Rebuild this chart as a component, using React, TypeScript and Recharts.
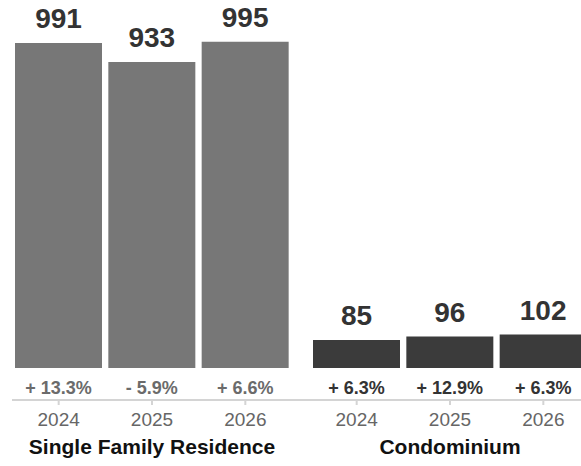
import { FC } from 'react';
import { Bar, BarChart, LabelList, XAxis, YAxis } from 'recharts';

const years = ['2024', '2025', '2026'];
const sfrValues = [991, 933, 995];
const sfrChange = ['+ 13.3%', '- 5.9%', '+ 6.6%'];
const condoValues = [85, 96, 102];
const condoChange = ['+ 6.3%', '+ 12.9%', '+ 6.3%'];

const FONT = '"Liberation Sans", Arial, Helvetica, sans-serif';

interface GroupProps {
  title: string;
  values: number[];
  changes: string[];
  barColor: string;
  changeColor: string;
  left: number;
  width: number;
  marginLeft: number;
  padLeft: number;
  padRight: number;
}

const GroupChart: FC<GroupProps> = ({
  title, values, changes, barColor, changeColor, left, width, marginLeft, padLeft, padRight,
}) => {
  const data = years.map((year, i) => ({ year, value: values[i], change: changes[i] }));

  return (
    <div style={{ position: 'absolute', left, top: 0 }}>
      <BarChart
        width={width}
        height={466}
        data={data}
        margin={{ top: 40, right: 0, left: marginLeft, bottom: 0 }}
      >
        <YAxis hide domain={[0, 1000]} />
        {/* empty axis: room for the change labels under the bars */}
        <XAxis
          xAxisId="gap"
          dataKey="year"
          height={32}
          tick={false}
          axisLine={false}
          tickLine={false}
          padding={{ left: padLeft, right: padRight }}
        />
        <XAxis
          xAxisId="year"
          dataKey="year"
          height={66}
          padding={{ left: padLeft, right: padRight }}
          axisLine={{ stroke: '#d4d4d4', strokeWidth: 2 }}
          tickLine={{ stroke: '#d4d4d4', strokeWidth: 2 }}
          tickSize={5}
          tickMargin={8}
          tick={{ fill: '#666', fontSize: 19, fontFamily: FONT }}
          label={{
            value: title,
            position: 'insideBottom',
            offset: 12,
            dx: (padLeft - padRight) / 2,
            fill: '#111',
            fontSize: 21,
            fontWeight: 'bold',
            fontFamily: FONT,
          }}
        />
        <Bar dataKey="value" xAxisId="year" fill={barColor} barSize={87} isAnimationActive={false}>
          <LabelList
            dataKey="value"
            position="top"
            offset={15}
            fill="#333"
            fontSize={28}
            fontWeight="bold"
            fontFamily={FONT}
          />
          <LabelList
            dataKey="change"
            position="bottom"
            offset={13}
            fill={changeColor}
            fontSize={18}
            fontWeight="bold"
            fontFamily={FONT}
          />
        </Bar>
      </BarChart>
    </div>
  );
};

const App: FC = () => {
  return (
    <div
      style={{
        position: 'absolute',
        left: 0,
        top: 0,
        width: 581,
        height: 466,
        overflow: 'hidden',
        background: '#fff',
        fontFamily: FONT,
      }}
    >
      <GroupChart
        title="Single Family Residence"
        values={sfrValues}
        changes={sfrChange}
        barColor="#777777"
        changeColor="#6b6b6b"
        left={0}
        width={292}
        marginLeft={12}
        padLeft={0}
        padRight={0}
      />
      <GroupChart
        title="Condominium"
        values={condoValues}
        changes={condoChange}
        barColor="#3b3b3b"
        changeColor="#333"
        left={292}
        width={300}
        marginLeft={0}
        padLeft={18}
        padRight={2}
      />
    </div>
  );
};

export default App;
